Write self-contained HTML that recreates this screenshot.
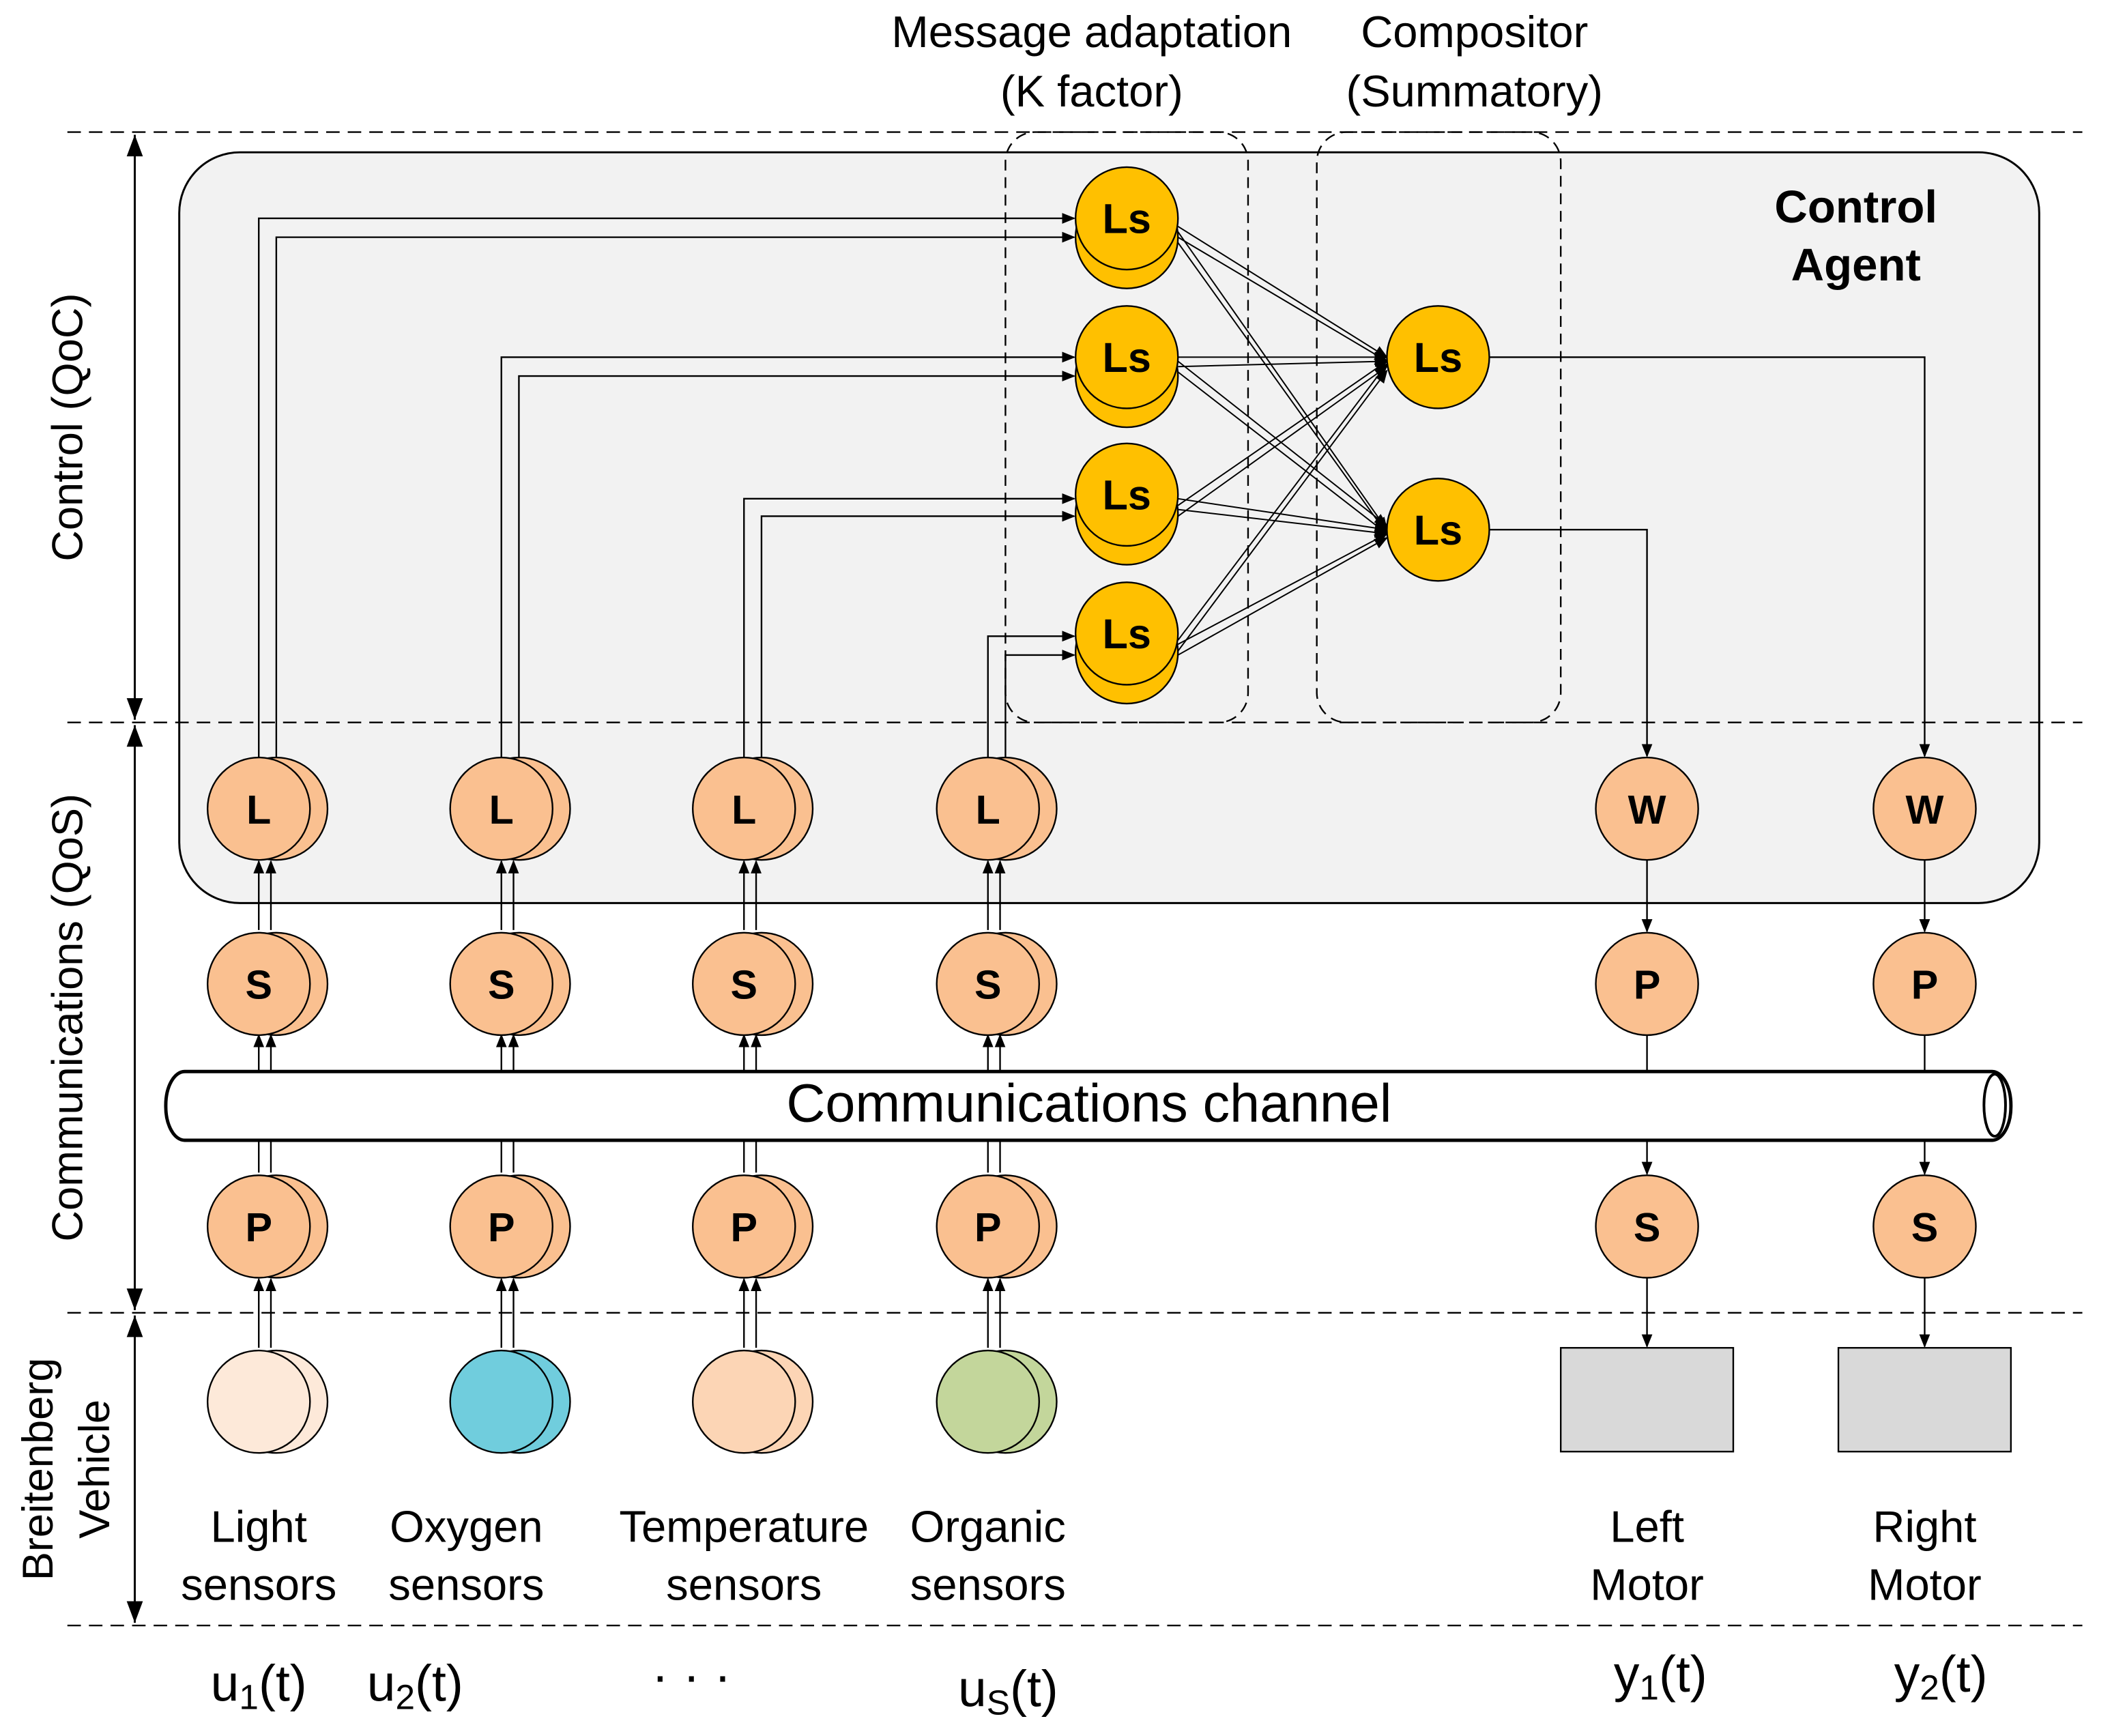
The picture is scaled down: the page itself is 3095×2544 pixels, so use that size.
<!DOCTYPE html>
<html><head><meta charset="utf-8"><style>
html,body{margin:0;padding:0;background:#fff;}
svg{display:block;}
text{font-family:"Liberation Sans",sans-serif;fill:#000;}
</style></head><body>
<svg width="3095" height="2544" viewBox="0 0 1567 1288" preserveAspectRatio="none" xmlns="http://www.w3.org/2000/svg">
<defs>
<marker id="a" markerWidth="10" markerHeight="10" refX="9" refY="5" orient="auto" markerUnits="userSpaceOnUse"><path d="M0,1 L10,5 L0,9 z" fill="#000"/></marker>
</defs>
<rect x="133" y="113" width="1380" height="557" rx="45" fill="#f2f2f2" stroke="#000" stroke-width="1.5"/>
<text x="1377" y="165" font-size="34" font-weight="bold" text-anchor="middle">Control</text>
<text x="1377" y="208" font-size="34" font-weight="bold" text-anchor="middle">Agent</text>
<g stroke="#000" stroke-dasharray="10,6" stroke-width="1.2">
<line x1="50" y1="98" x2="1545" y2="98"/><line x1="50" y1="536" x2="1545" y2="536"/>
<line x1="50" y1="974" x2="1545" y2="974"/><line x1="50" y1="1206" x2="1545" y2="1206"/>
</g>
<g fill="none" stroke="#000" stroke-dasharray="8,5" stroke-width="1.2">
<rect x="746" y="98" width="180" height="438" rx="22"/>
<rect x="977" y="98" width="181" height="438" rx="22"/>
</g>
<text x="810" y="35" font-size="33" text-anchor="middle">Message adaptation</text>
<text x="810" y="79" font-size="33" text-anchor="middle">(K factor)</text>
<text x="1094" y="35" font-size="33" text-anchor="middle">Compositor</text>
<text x="1094" y="79" font-size="33" text-anchor="middle">(Summatory)</text>
<g stroke="#000" stroke-width="1.5">
<line x1="100" y1="100" x2="100" y2="534"/><line x1="100" y1="538" x2="100" y2="972"/><line x1="100" y1="976" x2="100" y2="1204"/>
</g>
<g fill="#000">
<path d="M100,100 l-6,16 h12z"/><path d="M100,534 l-6,-16 h12z"/>
<path d="M100,538 l-6,16 h12z"/><path d="M100,972 l-6,-16 h12z"/>
<path d="M100,976 l-6,16 h12z"/><path d="M100,1204 l-6,-16 h12z"/>
</g>
<text transform="translate(61,317) rotate(-90)" font-size="32" text-anchor="middle">Control (QoC)</text>
<text transform="translate(61,755) rotate(-90)" font-size="32" text-anchor="middle">Communications (QoS)</text>
<text transform="translate(39,1090) rotate(-90)" font-size="32" text-anchor="middle">Breitenberg</text>
<text transform="translate(81,1090) rotate(-90)" font-size="32" text-anchor="middle">Vehicle</text>
<g fill="none" stroke="#000" stroke-width="1.2" marker-end="url(#a)">
<path d="M192,562 V162 H797"/><path d="M205,562 V176 H797"/>
<path d="M372,562 V265 H797"/><path d="M385,562 V279 H797"/>
<path d="M552,562 V370 H797"/><path d="M565,562 V383 H797"/>
<path d="M733,562 V472 H797"/><path d="M746,562 V486 H797"/>
</g>
<g stroke="#000" stroke-width="1.2" marker-end="url(#a)">
<line x1="192" y1="1000" x2="192" y2="949"/><line x1="201" y1="1000" x2="201" y2="949"/>
<line x1="192" y1="870" x2="192" y2="768"/><line x1="201" y1="870" x2="201" y2="768"/>
<line x1="192" y1="690" x2="192" y2="639"/><line x1="201" y1="690" x2="201" y2="639"/>
<line x1="372" y1="1000" x2="372" y2="949"/><line x1="381" y1="1000" x2="381" y2="949"/>
<line x1="372" y1="870" x2="372" y2="768"/><line x1="381" y1="870" x2="381" y2="768"/>
<line x1="372" y1="690" x2="372" y2="639"/><line x1="381" y1="690" x2="381" y2="639"/>
<line x1="552" y1="1000" x2="552" y2="949"/><line x1="561" y1="1000" x2="561" y2="949"/>
<line x1="552" y1="870" x2="552" y2="768"/><line x1="561" y1="870" x2="561" y2="768"/>
<line x1="552" y1="690" x2="552" y2="639"/><line x1="561" y1="690" x2="561" y2="639"/>
<line x1="733" y1="1000" x2="733" y2="949"/><line x1="742" y1="1000" x2="742" y2="949"/>
<line x1="733" y1="870" x2="733" y2="768"/><line x1="742" y1="870" x2="742" y2="768"/>
<line x1="733" y1="690" x2="733" y2="639"/><line x1="742" y1="690" x2="742" y2="639"/>
</g>
<g fill="none" stroke="#000" stroke-width="1.2" marker-end="url(#a)">
<path d="M1105,265 H1428 V561"/><path d="M1105,393 H1222 V561"/>
<line x1="1222" y1="638" x2="1222" y2="691"/><line x1="1428" y1="638" x2="1428" y2="691"/>
<line x1="1222" y1="768" x2="1222" y2="871"/><line x1="1428" y1="768" x2="1428" y2="871"/>
<line x1="1222" y1="948" x2="1222" y2="999"/><line x1="1428" y1="948" x2="1428" y2="999"/>
</g>
<g stroke="#000" stroke-width="1" marker-end="url(#a)">
<line x1="874" y1="168" x2="1029" y2="265"/><line x1="874" y1="176" x2="1029" y2="268"/>
<line x1="874" y1="172" x2="1029" y2="393"/><line x1="874" y1="180" x2="1029" y2="396"/>
<line x1="874" y1="265" x2="1029" y2="265"/><line x1="874" y1="272" x2="1029" y2="268"/>
<line x1="874" y1="268" x2="1029" y2="390"/><line x1="874" y1="276" x2="1029" y2="396"/>
<line x1="874" y1="375" x2="1029" y2="268"/><line x1="874" y1="383" x2="1029" y2="272"/>
<line x1="874" y1="370" x2="1029" y2="393"/><line x1="874" y1="378" x2="1029" y2="396"/>
<line x1="874" y1="475" x2="1029" y2="270"/><line x1="874" y1="483" x2="1029" y2="275"/>
<line x1="874" y1="478" x2="1029" y2="396"/><line x1="874" y1="486" x2="1029" y2="399"/>
</g>
<g stroke="#000" stroke-width="1.2" fill="#ffc000">
<circle cx="836" cy="176" r="38"/><circle cx="836" cy="162" r="38"/>
<circle cx="836" cy="279" r="38"/><circle cx="836" cy="265" r="38"/>
<circle cx="836" cy="381" r="38"/><circle cx="836" cy="367" r="38"/>
<circle cx="836" cy="484" r="38"/><circle cx="836" cy="470" r="38"/>
<circle cx="1067" cy="265" r="38"/><circle cx="1067" cy="393" r="38"/>
</g>
<g font-size="31" font-weight="bold" text-anchor="middle">
<text x="836" y="173">Ls</text><text x="836" y="276">Ls</text><text x="836" y="378">Ls</text><text x="836" y="481">Ls</text>
<text x="1067" y="276">Ls</text><text x="1067" y="404">Ls</text>
</g>
<rect x="123" y="795" width="1369" height="51" rx="14" ry="25" fill="#fff" stroke="#000" stroke-width="2.5"/>
<ellipse cx="1480" cy="820" rx="8" ry="23" fill="#fff" stroke="#000" stroke-width="2"/>
<text x="808" y="832" font-size="40" text-anchor="middle">Communications channel</text>
<g stroke="#000" stroke-width="1.2" fill="#fac090">
<circle cx="205" cy="600" r="38"/><circle cx="192" cy="600" r="38"/>
<circle cx="385" cy="600" r="38"/><circle cx="372" cy="600" r="38"/>
<circle cx="565" cy="600" r="38"/><circle cx="552" cy="600" r="38"/>
<circle cx="746" cy="600" r="38"/><circle cx="733" cy="600" r="38"/>
<circle cx="205" cy="730" r="38"/><circle cx="192" cy="730" r="38"/>
<circle cx="385" cy="730" r="38"/><circle cx="372" cy="730" r="38"/>
<circle cx="565" cy="730" r="38"/><circle cx="552" cy="730" r="38"/>
<circle cx="746" cy="730" r="38"/><circle cx="733" cy="730" r="38"/>
<circle cx="205" cy="910" r="38"/><circle cx="192" cy="910" r="38"/>
<circle cx="385" cy="910" r="38"/><circle cx="372" cy="910" r="38"/>
<circle cx="565" cy="910" r="38"/><circle cx="552" cy="910" r="38"/>
<circle cx="746" cy="910" r="38"/><circle cx="733" cy="910" r="38"/>
<circle cx="1222" cy="600" r="38"/><circle cx="1428" cy="600" r="38"/>
<circle cx="1222" cy="730" r="38"/><circle cx="1428" cy="730" r="38"/>
<circle cx="1222" cy="910" r="38"/><circle cx="1428" cy="910" r="38"/>
</g>
<g font-size="30" font-weight="bold" text-anchor="middle">
<text x="192" y="611">L</text><text x="372" y="611">L</text><text x="552" y="611">L</text><text x="733" y="611">L</text>
<text x="192" y="741">S</text><text x="372" y="741">S</text><text x="552" y="741">S</text><text x="733" y="741">S</text>
<text x="192" y="921">P</text><text x="372" y="921">P</text><text x="552" y="921">P</text><text x="733" y="921">P</text>
<text x="1222" y="611">W</text><text x="1428" y="611">W</text>
<text x="1222" y="741">P</text><text x="1428" y="741">P</text>
<text x="1222" y="921">S</text><text x="1428" y="921">S</text>
</g>
<g stroke="#000" stroke-width="1.2">
<circle cx="205" cy="1040" r="38" fill="#fde9d9"/><circle cx="192" cy="1040" r="38" fill="#fde9d9"/>
<circle cx="385" cy="1040" r="38" fill="#70cddd"/><circle cx="372" cy="1040" r="38" fill="#70cddd"/>
<circle cx="565" cy="1040" r="38" fill="#fcd5b5"/><circle cx="552" cy="1040" r="38" fill="#fcd5b5"/>
<circle cx="746" cy="1040" r="38" fill="#c3d69b"/><circle cx="733" cy="1040" r="38" fill="#c3d69b"/>
<rect x="1158" y="1000" width="128" height="77" fill="#d9d9d9"/>
<rect x="1364" y="1000" width="128" height="77" fill="#d9d9d9"/>
</g>
<g font-size="33" text-anchor="middle">
<text x="192" y="1144">Light</text><text x="192" y="1187">sensors</text>
<text x="346" y="1144">Oxygen</text><text x="346" y="1187">sensors</text>
<text x="552" y="1144">Temperature</text><text x="552" y="1187">sensors</text>
<text x="733" y="1144">Organic</text><text x="733" y="1187">sensors</text>
<text x="1222" y="1144">Left</text><text x="1222" y="1187">Motor</text>
<text x="1428" y="1144">Right</text><text x="1428" y="1187">Motor</text>
</g>
<g font-size="38" text-anchor="middle">
<text x="192" y="1262">u<tspan font-size="26" dy="6">1</tspan><tspan dy="-6">(t)</tspan></text>
<text x="308" y="1262">u<tspan font-size="26" dy="6">2</tspan><tspan dy="-6">(t)</tspan></text>
<text x="513" y="1256">· · ·</text>
<text x="748" y="1266">u<tspan font-size="26" dy="6">S</tspan><tspan dy="-6">(t)</tspan></text>
<text x="1232" y="1255">y<tspan font-size="26" dy="6">1</tspan><tspan dy="-6">(t)</tspan></text>
<text x="1440" y="1255">y<tspan font-size="26" dy="6">2</tspan><tspan dy="-6">(t)</tspan></text>
</g>
</svg>
</body></html>
